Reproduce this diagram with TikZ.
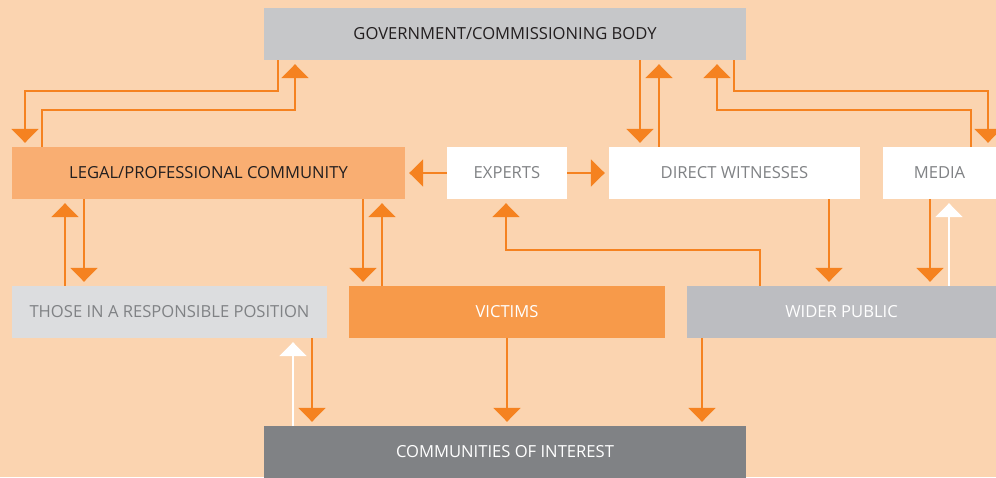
\documentclass[tikz,border=0pt]{standalone}
\usepackage{fontspec}
\setmainfont{Open Sans}
\usetikzlibrary{arrows.meta}
\definecolor{bg}{HTML}{FBD4B0}
\definecolor{arrorange}{HTML}{F58220}
\definecolor{govgray}{HTML}{C6C7C9}
\definecolor{legalor}{HTML}{F9AE72}
\definecolor{victor}{HTML}{F79A4A}
\definecolor{respgray}{HTML}{DCDDDF}
\definecolor{widegray}{HTML}{BCBDC1}
\definecolor{commgray}{HTML}{808285}
\definecolor{txtgray}{HTML}{808285}
\definecolor{txtdark}{HTML}{231F20}
\tikzset{
  box/.style={minimum height=52pt, inner sep=0pt, font=\fontsize{16.6}{18}\selectfont},
  arr/.style={draw=arrorange, line width=2pt, -{Triangle[width=27pt,length=14pt]}, arrorange, shorten >=4pt},
  warr/.style={draw=white, line width=2pt, -{Triangle[width=27pt,length=14pt]}, white, shorten >=4pt},
  harr/.style={arr, shorten >=4pt}
}
\begin{document}
\begin{tikzpicture}[x=1pt,y=-1pt]
\useasboundingbox (0,0) rectangle (996,477);
\fill[bg] (0,0) rectangle (996,477);
\clip (0,0) rectangle (996,477);
\node[box, fill=govgray, text=txtdark, minimum width=482pt] (gov) at (505,34) {GOVERNMENT/COMMISSIONING BODY};
\node[box, fill=legalor, text=txtdark, minimum width=393pt] (legal) at (208.5,173) {LEGAL/PROFESSIONAL COMMUNITY};
\node[box, fill=white, text=txtgray, minimum width=120pt] (experts) at (507,173) {EXPERTS};
\node[box, fill=white, text=txtgray, minimum width=251pt] (witn) at (734.5,173) {DIRECT WITNESSES};
\node[box, fill=white, text=txtgray, minimum width=113pt] (media) at (939.5,173) {MEDIA};
\node[box, fill=respgray, text=txtgray, minimum width=315pt] (resp) at (169.5,312) {THOSE IN A RESPONSIBLE POSITION};
\node[box, fill=victor, text=white, minimum width=316pt] (vict) at (507,312) {VICTIMS};
\node[box, fill=widegray, text=white, minimum width=309pt] (wide) at (841.5,312) {WIDER PUBLIC};
\node[box, fill=commgray, text=white, minimum width=482pt] (comm) at (505,452) {COMMUNITIES OF INTEREST};
% government <-> legal
\draw[arr] (gov.south -| 278,0) -- (278,91) -| (legal.north -| 25,0);
\draw[arr] (legal.north -| 42,0) -- (42,110) -| (gov.south -| 295,0);
% government <-> witnesses
\draw[arr] (gov.south -| 640,0) -- (witn.north -| 640,0);
\draw[arr] (witn.north -| 659,0) -- (gov.south -| 659,0);
% government <-> media
\draw[arr] (media.north -| 971,0) -- (971,110) -| (gov.south -| 717,0);
\draw[arr] (gov.south -| 734,0) -- (734,91) -| (media.north -| 988,0);
% experts
\draw[harr] (experts.west) -- (legal.east);
\draw[harr] (experts.east) -- (witn.west);
% legal <-> responsible
\draw[arr] (resp.north -| 65,0) -- (legal.south -| 65,0);
\draw[arr] (legal.south -| 84,0) -- (resp.north -| 84,0);
% legal <-> victims
\draw[arr] (legal.south -| 363,0) -- (vict.north -| 363,0);
\draw[arr] (vict.north -| 382,0) -- (legal.south -| 382,0);
% wider public
\draw[arr] (wide.north -| 760,0) -- (760,250) -| (experts.south -| 506,0);
\draw[arr] (witn.south -| 829,0) -- (wide.north -| 829,0);
\draw[arr] (media.south -| 930,0) -- (wide.north -| 930,0);
\draw[warr] (wide.north -| 949,0) -- (media.south -| 949,0);
% communities
\draw[warr] (comm.north -| 293,0) -- (resp.south -| 293,0);
\draw[arr] (resp.south -| 312,0) -- (comm.north -| 312,0);
\draw[arr] (vict.south) -- (comm.north -| 507,0);
\draw[arr] (wide.south -| 702,0) -- (comm.north -| 702,0);
\end{tikzpicture}
\end{document}
